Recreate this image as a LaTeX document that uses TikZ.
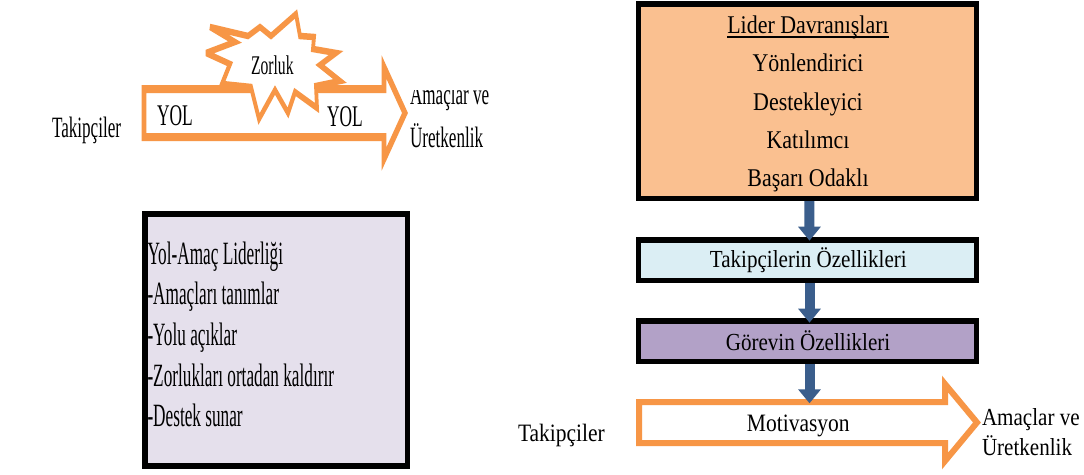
\documentclass[tikz,border=0pt]{standalone}
\usepackage{fontspec}
\setmainfont{Liberation Serif}
\newfontfamily\condA{Liberation Serif}[FakeStretch=0.53]
\newfontfamily\condB{Liberation Serif}[FakeStretch=0.86]
\usetikzlibrary{arrows.meta}

\definecolor{pathorange}{HTML}{F79646}
\definecolor{leaderfill}{HTML}{FAC090}
\definecolor{followerfill}{HTML}{DBEEF4}
\definecolor{taskfill}{HTML}{B2A1C7}
\definecolor{notefill}{HTML}{E5E0EC}
\definecolor{flowblue}{HTML}{3B5E8C}

\newcommand\pxsize[1]{\fontsize{#1}{#1}\selectfont}

\tikzset{
  box/.style={draw=black, line width=5.5pt, inner sep=0pt},
  txt/.style={inner sep=0pt, outer sep=0pt},
  blockarrow/.style={draw=flowblue, line width=10pt, -{Triangle[width=22pt,length=14pt]}},
  pathline/.style={draw=pathorange, line width=6pt, line join=miter},
  burst/.style={draw=pathorange, fill=white, line width=6.5pt, line join=miter, miter limit=4},
}

\begin{document}
\begin{tikzpicture}[x=1pt, y=-1pt]
\useasboundingbox[fill=white] (0,0) rectangle (1084,474);

% ---------- path with an obstacle (narrow set) ----------
\begin{scope}[transform canvas={xscale=0.58}, x=1.72414pt]
  \draw[pathline, line width=8pt] (144,89) -- (384,89) -- (384,67) -- (405,113)
        -- (384,159) -- (384,137) -- (144,137) -- cycle;
  \draw[burst] (210,27) -- (248,36) -- (260,27) -- (271,36) -- (296,14) -- (300,36)
        -- (314,37) -- (313,49) -- (336,53) -- (320,65) -- (340,81) -- (316,86)
        -- (317,108) -- (295,92) -- (288,113) -- (275,90) -- (259,119) -- (251,87)
        -- (222,84) -- (230,64) -- (206,53) -- (235,42) -- cycle;
  \node[txt, anchor=base west] (obstacle) at (251,74) {\pxsize{27}Zorluk};
  \node[txt, anchor=base west] (pathA) at (157,125) {\pxsize{30}YOL};
  \node[txt, anchor=base west] (pathB) at (327,126) {\pxsize{30}YOL};
  \node[txt, anchor=base west] (followersA) at (52,137) {\pxsize{29.5}Takipçiler};
  \begin{scope}
    \clip (400,90) rectangle (520,200);
    \node[txt, anchor=base west] (goalsA) at (410,104) {\pxsize{29.5}Amaçlar ve};
  \end{scope}
  \node[txt, anchor=base west] (productA) at (410,147) {\pxsize{29.5}Üretkenlik};
\end{scope}

% ---------- summary box ----------
\node[box, fill=notefill, minimum width=262.5pt, minimum height=252pt] (summary) at (276.25,340) {};
\foreach \t/\y [count=\i] in {Yol-Amaç Liderliği/264.3, -Amaçları tanımlar/304.9,
    -Yolu açıklar/345.5, -Zorlukları ortadan kaldırır/386.1, -Destek sunar/426.7}
  \node[txt, anchor=base west] (summary\i) at (147.5,\y) {\condA\pxsize{32.5}\t};

% ---------- leader behaviours ----------
\node[box, fill=leaderfill, minimum width=338.2pt, minimum height=194.1pt] (leader) at (807.4,101.25) {};
\node[txt, anchor=base] (leaderhead) at (808,33.3) {\condB\pxsize{25.5}Lider Davranışları};
\draw[line width=1.6pt] ([yshift=-3.6pt]leaderhead.base west) -- ([yshift=-3.6pt]leaderhead.base east);
\foreach \t/\y [count=\i] in {Yönlendirici/71.7, Destekleyici/110, Katılımcı/148.3, Başarı Odaklı/186.7}
  \node[txt, anchor=base] (leader\i) at (808,\y) {\condB\pxsize{25.5}\t};

% ---------- contingency boxes ----------
\node[box, fill=followerfill, minimum width=338pt, minimum height=40.5pt] (followers) at (807.5,260.25) {};
\node[txt, anchor=base] (followerstext) at (808.3,267.3) {\condB\pxsize{24.5}Takipçilerin Özellikleri};
\node[box, fill=taskfill, minimum width=338pt, minimum height=40.7pt] (task) at (807.5,341.35) {};
\node[txt, anchor=base] (tasktext) at (808,350) {\condB\pxsize{24.5}Görevin Özellikleri};

% ---------- motivation arrow ----------
\draw[pathline] (639,402) -- (945,402) -- (945,384) -- (977,422.5) -- (945,461)
      -- (945,443) -- (639,443) -- cycle;
\coordinate (motivtop) at (809.5,403.3);
\node[txt, anchor=base] (motivation) at (798.3,431.7) {\condB\pxsize{25}Motivasyon};
\node[txt, anchor=base west] (followersB) at (518,441.7) {\condB\pxsize{25}Takipçiler};
\node[txt, anchor=base west] (goalsB) at (982,425) {\condB\pxsize{24.5}Amaçlar ve};
\node[txt, anchor=base west] (productB) at (982,455) {\condB\pxsize{24.5}Üretkenlik};

% ---------- flow arrows ----------
\draw[blockarrow, shorten >=-3.4pt] ([xshift=2pt]leader.south) -- ([xshift=2pt]followers.north);
\draw[blockarrow, shorten >=-4.4pt] ([xshift=2pt]followers.south) -- ([xshift=2pt]task.north);
\draw[blockarrow] ([xshift=2pt]task.south) -- (motivtop);
\end{tikzpicture}
\end{document}
